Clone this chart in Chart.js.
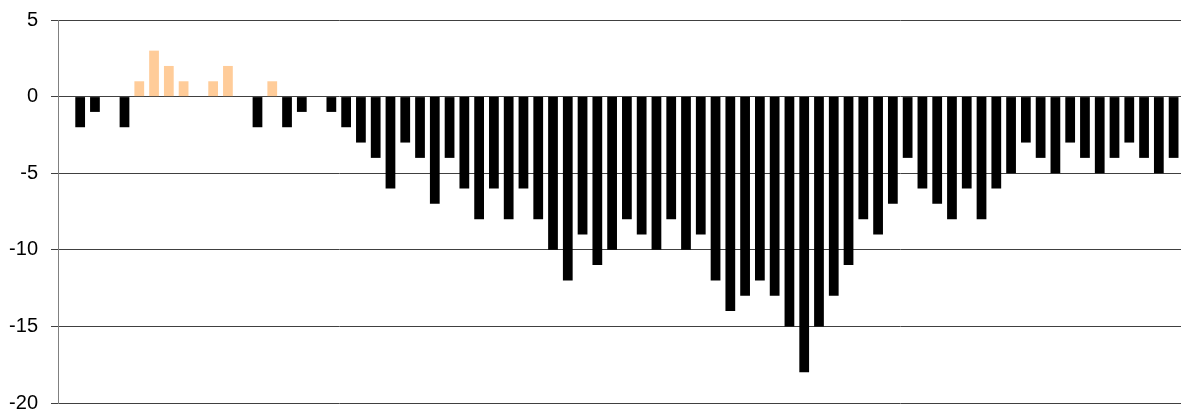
<!DOCTYPE html>
<html>
<head>
<meta charset="utf-8">
<script src="https://cdn.jsdelivr.net/npm/chart.js@4"></script>
<style>
  body { margin: 0; background: #fff; }
  #wrap { width: 1184px; height: 417px; position: relative; }
</style>
</head>
<body>
<div id="wrap"><canvas id="bars"></canvas></div>
<script>
// Chart data
const categories = Array.from({ length: 76 }, (_, i) => String(i + 1));
const values = [
    0, -2, -1, 0, -2, 1, 3, 2, 1, 0,
    1, 2, 0, -2, 1, -2, -1, 0, -1, -2,
    -3, -4, -6, -3, -4, -7, -4, -6, -8, -6,
    -8, -6, -8, -10, -12, -9, -11, -10, -8, -9,
    -10, -8, -10, -9, -12, -14, -13, -12, -13, -15,
    -18, -15, -13, -11, -8, -9, -7, -4, -6, -7,
    -8, -6, -8, -6, -5, -3, -4, -5, -3, -4,
    -5, -4, -3, -4, -5, -4
];
const yTicks = [-20, -15, -10, -5, 0, 5];

const POS_COLOR = '#FFCC99';
const NEG_COLOR = '#000000';

const ctx = document.getElementById('bars');

new Chart(ctx, {
    type: 'bar',
    data: {
        labels: categories,
        datasets: [{
            data: values,
            backgroundColor: values.map(v => v > 0 ? POS_COLOR : NEG_COLOR),
            borderWidth: 0,
            categoryPercentage: 1.0,
            barPercentage: 0.66
        }]
    },
    options: {
        responsive: true,
        maintainAspectRatio: false,
        animation: false,
        layout: {
            padding: { left: 0, right: 3, top: 20, bottom: 14 }
        },
        plugins: {
            legend: { display: false },
            tooltip: { enabled: false }
        },
        scales: {
            x: {
                display: false
            },
            y: {
                min: -20,
                max: 5,
                afterBuildTicks: function(scale) {
                    scale.ticks = yTicks.map(v => ({ value: v }));
                },
                afterFit: function(scale) {
                    // fixed axis width, no extra label overhang padding
                    scale.width = 58;
                    scale.paddingTop = 0;
                    scale.paddingBottom = 0;
                },
                grid: {
                    color: '#404040',
                    lineWidth: 1,
                    tickLength: 7
                },
                border: {
                    color: '#808080',
                    width: 1
                },
                ticks: {
                    color: '#000',
                    padding: 13,
                    font: { family: 'Liberation Sans, Arial, sans-serif', size: 20 }
                }
            }
        }
    }
});
</script>
</body>
</html>
